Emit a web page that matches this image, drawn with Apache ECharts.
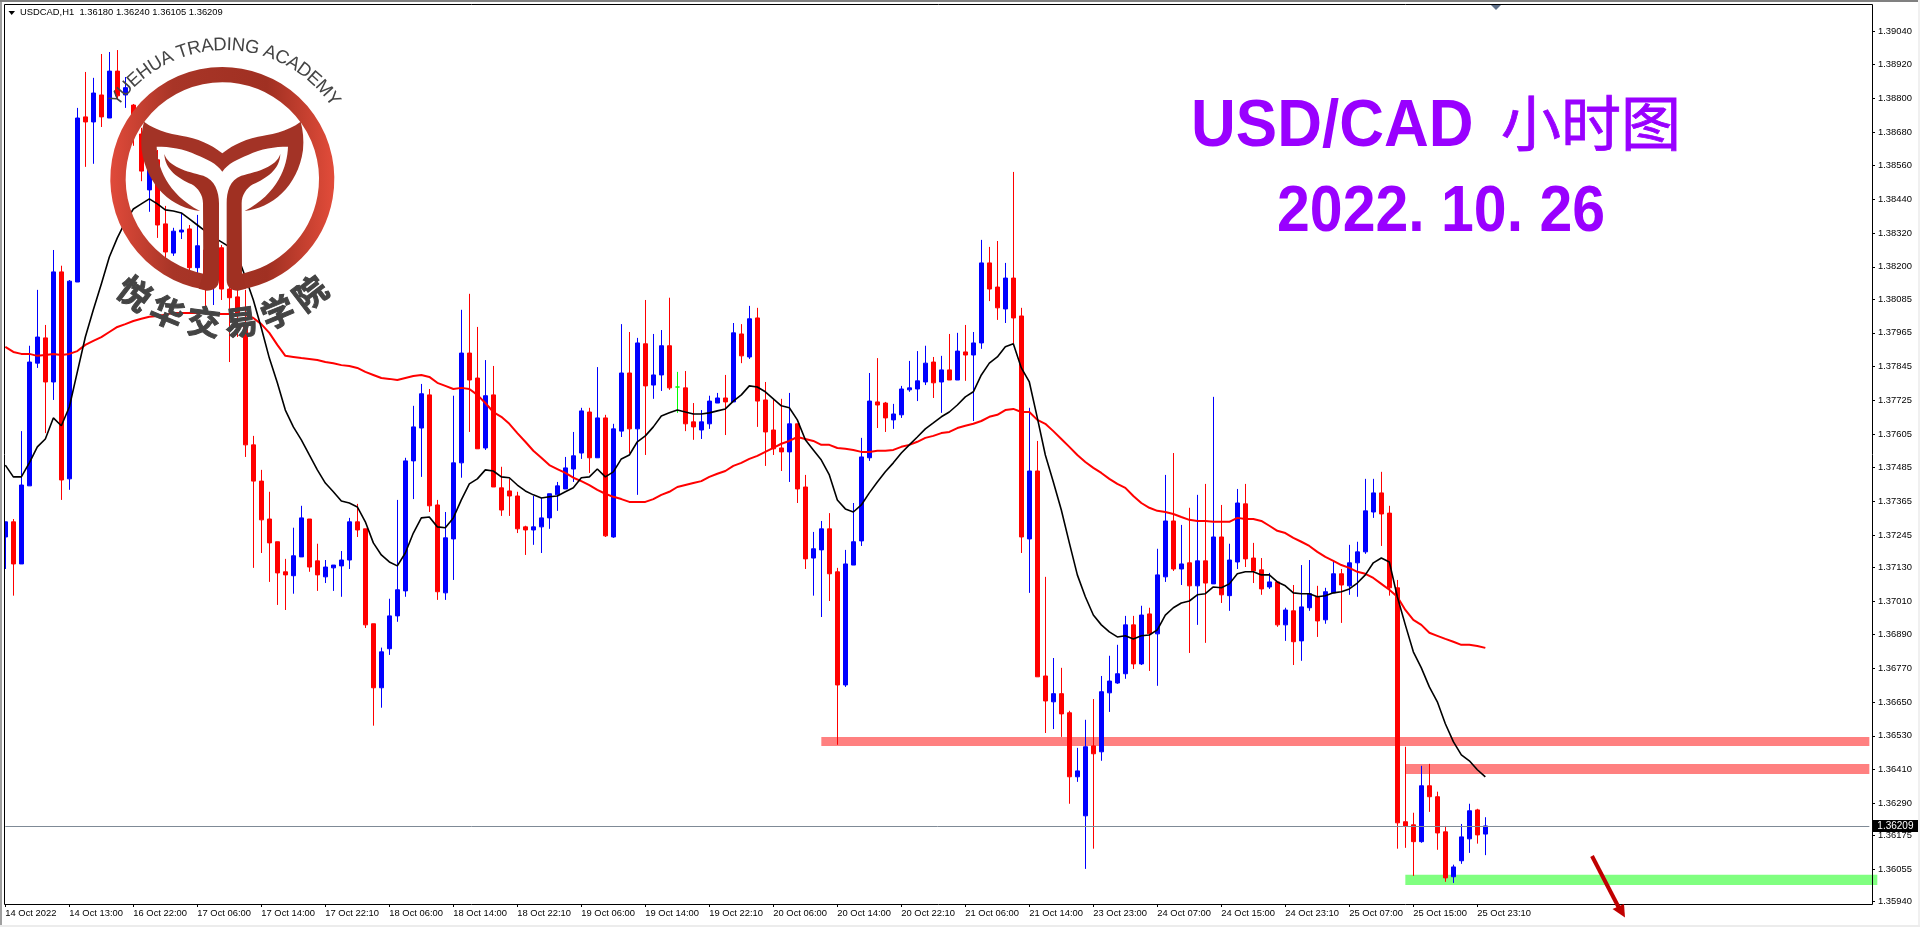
<!DOCTYPE html>
<html lang="en">
<head>
<meta charset="utf-8">
<title>USDCAD H1</title>
<style>
html, body { margin: 0; padding: 0; background: #fff; }
#main { width: 1920px; height: 927px; }
</style>
</head>
<body>
<div id="main"></div>
<script src="https://cdn.jsdelivr.net/npm/echarts@6/dist/echarts.min.js"></script>
<script>
// x axis labels, one every 8 bars
var tickLabels = ['14 Oct 2022','14 Oct 13:00','16 Oct 22:00','17 Oct 06:00','17 Oct 14:00','17 Oct 22:10','18 Oct 06:00','18 Oct 14:00','18 Oct 22:10','19 Oct 06:00','19 Oct 14:00','19 Oct 22:10','20 Oct 06:00','20 Oct 14:00','20 Oct 22:10','21 Oct 06:00','21 Oct 14:00','23 Oct 23:00','24 Oct 07:00','24 Oct 15:00','24 Oct 23:10','25 Oct 07:00','25 Oct 15:00','25 Oct 23:10'];

// price scale as printed by the terminal
var priceTicks = [1.39040,1.38920,1.38800,1.38680,1.38560,1.38440,1.38320,1.38200,1.38085,1.37965,1.37845,1.37725,1.37605,1.37485,1.37365,1.37245,1.37130,1.37010,1.36890,1.36770,1.36650,1.36530,1.36410,1.36290,1.36175,1.36055,1.35940];

var opens = [
1.37238,1.37292,1.37142,1.37420,1.37857,1.37947,1.37790,1.38182,1.37445,1.38146,
1.38734,1.38716,1.38812,1.38730,1.38897,1.38812,1.38776,1.38673,1.38474,1.38581,
1.38353,1.38249,1.38324,1.38335,1.38197,1.38260,1.38135,1.38268,1.38121,1.38093,
1.37993,1.37566,1.37437,1.37302,1.37221,1.37114,1.37100,1.37167,1.37302,1.37153,
1.37096,1.37128,1.37135,1.37156,1.37292,1.37267,1.36929,1.36701,1.36840,1.36957,
1.37046,1.37509,1.37626,1.37744,1.37352,1.37039,1.37231,1.37502,1.37893,1.37804,
1.37555,1.37744,1.37413,1.37402,1.37384,1.37274,1.37263,1.37274,1.37306,1.37388,
1.37409,1.37480,1.37537,1.37683,1.37520,1.37662,1.37238,1.37615,1.37822,1.37623,
1.37926,1.37779,1.37815,1.37919,1.37772,1.37769,1.37648,1.37619,1.37641,1.37715,
1.37733,1.37719,1.37961,1.37879,1.38018,1.37726,1.37619,1.37555,1.37541,1.37641,
1.37416,1.37163,1.37192,1.37267,1.37114,1.36711,1.37138,1.37224,1.37520,1.37719,
1.37715,1.37655,1.37673,1.37762,1.37765,1.37790,1.37861,1.37790,1.37833,1.37797,
1.37897,1.37886,1.37929,1.38214,1.38128,1.38050,1.38160,1.38025,1.37231,1.37473,
1.36743,1.36651,1.36680,1.36612,1.36384,1.36245,1.36494,1.36473,1.36683,1.36718,
1.36751,1.36925,1.36786,1.36964,1.36893,1.37096,1.37295,1.37124,1.37146,1.37064,
1.37153,1.37071,1.37238,1.37029,1.37149,1.37356,1.37163,1.37121,1.37060,1.37078,
1.36925,1.36975,1.36868,1.36986,1.37025,1.36943,1.37039,1.37107,1.37064,1.37146,
1.37185,1.37327,1.37395,1.37323,1.37057,1.36224,1.36213,1.36153,1.36352,1.36313,
1.36188,1.36028,1.36085,1.36163,1.36266,1.36180];

var closes = [
1.37292,1.37142,1.37423,1.37861,1.37950,1.37790,1.38182,1.37441,1.38149,1.38730,
1.38716,1.38819,1.38734,1.38897,1.38809,1.38838,1.38676,1.38541,1.38616,1.38349,
1.38253,1.38327,1.38331,1.38197,1.38275,1.38135,1.38225,1.38121,1.38090,1.38029,
1.37566,1.37437,1.37299,1.37217,1.37110,1.37103,1.37171,1.37306,1.37131,1.37103,
1.37131,1.37138,1.37156,1.37292,1.37263,1.36925,1.36701,1.36829,1.36957,1.37050,
1.37509,1.37630,1.37748,1.37349,1.37043,1.37235,1.37502,1.37893,1.37797,1.37552,
1.37741,1.37416,1.37334,1.37384,1.37267,1.37263,1.37274,1.37306,1.37392,1.37420,
1.37484,1.37527,1.37687,1.37520,1.37662,1.37242,1.37623,1.37822,1.37623,1.37929,
1.37776,1.37815,1.37919,1.37769,1.37772,1.37641,1.37630,1.37648,1.37722,1.37733,
1.37719,1.37965,1.37883,1.38015,1.37722,1.37612,1.37552,1.37541,1.37641,1.37409,
1.37160,1.37196,1.37267,1.37107,1.36711,1.37142,1.37221,1.37523,1.37722,1.37708,
1.37662,1.37676,1.37765,1.37769,1.37794,1.37857,1.37787,1.37833,1.37797,1.37900,
1.37886,1.37929,1.38214,1.38121,1.38054,1.38160,1.38018,1.37238,1.37473,1.36740,
1.36654,1.36680,1.36608,1.36384,1.36405,1.36491,1.36466,1.36687,1.36725,1.36751,
1.36925,1.36786,1.36960,1.36893,1.37103,1.37295,1.37124,1.37142,1.37064,1.37153,
1.37074,1.37238,1.37032,1.37156,1.37359,1.37160,1.37117,1.37053,1.37078,1.36925,
1.36978,1.36865,1.36989,1.37036,1.36939,1.37043,1.37107,1.37067,1.37146,1.37185,
1.37331,1.37395,1.37320,1.37057,1.36220,1.36209,1.36153,1.36352,1.36313,1.36184,
1.36024,1.36063,1.36170,1.36263,1.36177,1.36209];

var lows = [
1.37124,1.37029,1.37142,1.37420,1.37840,1.37608,1.37726,1.37370,1.37406,1.38146,
1.38556,1.38567,1.38698,1.38730,1.38794,1.38766,1.38631,1.38505,1.38396,1.38303,
1.38232,1.38239,1.38299,1.38185,1.38178,1.38057,1.38064,1.38082,1.37861,1.37950,
1.37523,1.37128,1.37181,1.37078,1.36996,1.36978,1.37036,1.37167,1.37114,1.37046,
1.37074,1.37046,1.37025,1.37124,1.37238,1.36914,1.36566,1.36630,1.36818,1.36936,
1.37025,1.37373,1.37452,1.37327,1.37014,1.37014,1.37085,1.37449,1.37612,1.37552,
1.37548,1.37416,1.37313,1.37313,1.37252,1.37174,1.37210,1.37181,1.37267,1.37331,
1.37409,1.37434,1.37516,1.37466,1.37520,1.37238,1.37235,1.37594,1.37537,1.37388,
1.37530,1.37730,1.37758,1.37762,1.37680,1.37615,1.37584,1.37587,1.37623,1.37715,
1.37601,1.37719,1.37857,1.37872,1.37630,1.37491,1.37530,1.37473,1.37434,1.37359,
1.37124,1.37029,1.36953,1.37010,1.36498,1.36704,1.37138,1.37206,1.37509,1.37626,
1.37612,1.37623,1.37662,1.37755,1.37722,1.37779,1.37733,1.37680,1.37797,1.37797,
1.37794,1.37651,1.37908,1.38078,1.38011,1.38000,1.37926,1.37181,1.37039,1.36740,
1.36540,1.36554,1.36526,1.36288,1.36366,1.36056,1.36128,1.36441,1.36615,1.36715,
1.36733,1.36768,1.36782,1.36761,1.36708,1.37078,1.37117,1.37067,1.36825,1.36925,
1.36861,1.37071,1.37003,1.36975,1.37124,1.37131,1.37074,1.37032,1.37053,1.36918,
1.36868,1.36782,1.36797,1.36975,1.36882,1.36929,1.37039,1.36932,1.37032,1.37025,
1.37178,1.37306,1.37206,1.37029,1.36128,1.36131,1.36031,1.36149,1.36259,1.36124,
1.36010,1.36006,1.36074,1.36113,1.36146,1.36105];

var highs = [
1.37292,1.37302,1.37615,1.37919,1.38118,1.37993,1.38260,1.38204,1.38153,1.38766,
1.38894,1.38873,1.38958,1.38965,1.38972,1.38876,1.38780,1.38695,1.38652,1.38616,
1.38417,1.38339,1.38392,1.38349,1.38385,1.38296,1.38260,1.38278,1.38153,1.38118,
1.38118,1.37598,1.37477,1.37399,1.37221,1.37160,1.37271,1.37349,1.37302,1.37214,
1.37156,1.37138,1.37188,1.37306,1.37356,1.37267,1.36929,1.36844,1.37018,1.37370,
1.37520,1.37705,1.37783,1.37765,1.37370,1.37327,1.37741,1.38047,1.38104,1.37986,
1.37868,1.37847,1.37488,1.37445,1.37399,1.37278,1.37384,1.37377,1.37392,1.37434,
1.37523,1.37612,1.37698,1.37698,1.37843,1.37673,1.37641,1.37996,1.37968,1.37947,
1.38082,1.37961,1.37975,1.38090,1.37826,1.37829,1.37715,1.37690,1.37741,1.37751,
1.37815,1.38000,1.37996,1.38061,1.38054,1.37790,1.37726,1.37730,1.37751,1.37641,
1.37459,1.37256,1.37295,1.37323,1.37128,1.37192,1.37359,1.37591,1.37822,1.37875,
1.37719,1.37712,1.37776,1.37865,1.37900,1.37919,1.37879,1.37883,1.37961,1.37965,
1.37993,1.37968,1.38296,1.38271,1.38292,1.38214,1.38538,1.38054,1.37698,1.37580,
1.37096,1.36807,1.36772,1.36619,1.36487,1.36587,1.36661,1.36743,1.36815,1.36854,
1.36957,1.36957,1.36993,1.36986,1.37196,1.37459,1.37537,1.37281,1.37342,1.37388,
1.37427,1.37737,1.37352,1.37214,1.37409,1.37427,1.37217,1.37163,1.37110,1.37078,
1.36986,1.37067,1.37138,1.37156,1.37064,1.37057,1.37153,1.37124,1.37210,1.37221,
1.37445,1.37445,1.37470,1.37349,1.37085,1.36491,1.36256,1.36423,1.36430,1.36331,
1.36209,1.36071,1.36216,1.36288,1.36270,1.36240];

// short moving average (black)
var maFast = [
1.37494,1.37452,1.37452,1.37502,1.37559,1.37587,1.37662,1.37634,1.37701,1.37826,
1.37950,1.38047,1.38139,1.38235,1.38303,1.38360,1.38406,1.38424,1.38442,1.38424,
1.38403,1.38399,1.38392,1.38371,1.38349,1.38327,1.38306,1.38289,1.38271,1.38242,
1.38164,1.38082,1.37982,1.37875,1.37787,1.37690,1.37630,1.37584,1.37530,1.37477,
1.37430,1.37399,1.37366,1.37359,1.37345,1.37292,1.37217,1.37174,1.37149,1.37135,
1.37181,1.37252,1.37306,1.37309,1.37274,1.37271,1.37306,1.37370,1.37427,1.37445,
1.37477,1.37473,1.37452,1.37449,1.37423,1.37402,1.37388,1.37377,1.37381,1.37384,
1.37399,1.37413,1.37449,1.37452,1.37480,1.37452,1.37470,1.37516,1.37530,1.37577,
1.37598,1.37630,1.37669,1.37680,1.37690,1.37683,1.37676,1.37676,1.37680,1.37687,
1.37694,1.37722,1.37744,1.37776,1.37772,1.37755,1.37730,1.37705,1.37698,1.37655,
1.37584,1.37548,1.37512,1.37459,1.37370,1.37338,1.37327,1.37352,1.37395,1.37434,
1.37470,1.37502,1.37537,1.37566,1.37594,1.37623,1.37644,1.37666,1.37683,1.37708,
1.37737,1.37755,1.37815,1.37857,1.37879,1.37915,1.37926,1.37840,1.37790,1.37662,
1.37530,1.37434,1.37334,1.37217,1.37103,1.37025,1.36960,1.36925,1.36900,1.36882,
1.36886,1.36875,1.36886,1.36889,1.36907,1.36960,1.36986,1.37003,1.37010,1.37032,
1.37036,1.37060,1.37057,1.37071,1.37107,1.37114,1.37114,1.37103,1.37103,1.37078,
1.37064,1.37039,1.37036,1.37036,1.37025,1.37029,1.37039,1.37043,1.37053,1.37074,
1.37103,1.37146,1.37163,1.37149,1.37025,1.36925,1.36829,1.36772,1.36704,1.36651,
1.36573,1.36509,1.36462,1.36441,1.36409,1.36384];

// long moving average (red)
var maSlow = [
1.37915,1.37897,1.37890,1.37890,1.37883,1.37886,1.37890,1.37886,1.37890,1.37900,
1.37922,1.37936,1.37950,1.37968,1.37986,1.37996,1.38007,1.38015,1.38022,1.38025,
1.38029,1.38036,1.38036,1.38036,1.38036,1.38036,1.38032,1.38032,1.38032,1.38032,
1.38029,1.38018,1.37996,1.37965,1.37922,1.37883,1.37879,1.37875,1.37872,1.37868,
1.37861,1.37857,1.37850,1.37847,1.37840,1.37826,1.37815,1.37804,1.37801,1.37797,
1.37804,1.37811,1.37815,1.37808,1.37787,1.37776,1.37765,1.37769,1.37765,1.37744,
1.37715,1.37683,1.37666,1.37641,1.37608,1.37577,1.37545,1.37520,1.37494,1.37480,
1.37466,1.37449,1.37437,1.37423,1.37406,1.37392,1.37381,1.37373,1.37363,1.37363,
1.37363,1.37373,1.37388,1.37399,1.37416,1.37423,1.37430,1.37437,1.37452,1.37463,
1.37473,1.37491,1.37502,1.37516,1.37527,1.37541,1.37555,1.37570,1.37580,1.37594,
1.37587,1.37580,1.37566,1.37566,1.37555,1.37552,1.37548,1.37541,1.37541,1.37545,
1.37545,1.37548,1.37559,1.37566,1.37577,1.37591,1.37598,1.37608,1.37612,1.37626,
1.37634,1.37641,1.37651,1.37666,1.37673,1.37690,1.37694,1.37683,1.37683,1.37655,
1.37641,1.37615,1.37587,1.37559,1.37530,1.37505,1.37484,1.37466,1.37445,1.37427,
1.37413,1.37384,1.37359,1.37342,1.37331,1.37327,1.37320,1.37309,1.37299,1.37295,
1.37295,1.37292,1.37292,1.37292,1.37306,1.37302,1.37302,1.37295,1.37278,1.37260,
1.37252,1.37235,1.37221,1.37206,1.37185,1.37167,1.37153,1.37138,1.37128,1.37114,
1.37107,1.37092,1.37071,1.37050,1.37025,1.36978,1.36943,1.36925,1.36897,1.36886,
1.36875,1.36865,1.36854,1.36854,1.36850,1.36843];

// horizontal zones drawn by hand on the chart: [low, high, first bar]
var resistanceUpper = [1.36494, 1.36526, 102];
var resistanceLower = [1.36394, 1.36430, 175];
var supportZone = [1.35999, 1.36035, 175];

var lastPrice = 1.36209;
var headerText = 'USDCAD,H1  1.36180 1.36240 1.36105 1.36209';

var BAR_SLOTS = 235;
var FONT = '"Liberation Sans", Arial, sans-serif';

var categories = [];
for (var c = 0; c < BAR_SLOTS; c++) {
    categories.push(c % 8 === 0 && tickLabels[c / 8] ? tickLabels[c / 8] : '');
}

var candles = opens.map(function (o, i) {
    return [o, closes[i], lows[i], highs[i]];
});

function zoneArea(zone, color, rightBar) {
    return [
        { xAxis: zone[2], yAxis: zone[1], itemStyle: { color: color } },
        { xAxis: rightBar, yAxis: zone[0] }
    ];
}

// logo shapes, in 3x pixels, scaled down by the group they sit in
echarts.graphic.registerShape('logoHorns', echarts.graphic.extendPath(
    'M432,365 C470,395 530,405 560,410 C610,420 650,445 667,460 C684,445 724,420 774,410 C804,405 864,395 902,365 ' +
    'C909,390 912,420 909,450 C894,560 814,625 734,633 C834,580 862,500 864,440 C824,440 784,445 744,465 C714,478 684,490 667,515 ' +
    'C650,490 620,478 590,465 C550,445 510,440 470,440 C472,500 500,580 600,633 C520,625 440,560 425,450 C422,420 425,390 432,365 Z', {}));
echarts.graphic.registerShape('logoStems', echarts.graphic.extendPath(
    'M493,462 C505,500 560,515 610,527 C645,540 657,575 657,610 L657,840 C657,862 640,872 620,872 L596,866 L610,820 L609,610 C609,585 595,565 575,553 C535,535 495,510 493,462 Z ' +
    'M841,462 C829,500 774,515 724,527 C689,540 680,575 680,610 L680,840 C680,862 694,872 714,872 L738,866 L726,820 L725,610 C725,585 739,565 759,553 C799,535 839,510 841,462 Z', {}));

var LOGO_X = 222.5, LOGO_Y = 179;

function logoTopText() {
    var text = 'YUEHUA TRADING ACADEMY';
    var size = 18.5, r = 134;
    var ctx = document.createElement('canvas').getContext('2d');
    ctx.font = size + 'px ' + FONT;
    var total = ctx.measureText(text).width;
    var run = 0, out = [];
    for (var i = 0; i < text.length; i++) {
        var w = ctx.measureText(text[i]).width;
        var a = (run + w / 2 - total / 2) / r;
        out.push({
            type: 'text', z: 60, x: LOGO_X + 2.5 + r * Math.sin(a), y: LOGO_Y - r * Math.cos(a), rotation: -a,
            style: { text: text[i], fill: '#444', fontSize: size, fontFamily: FONT, textAlign: 'center', textVerticalAlign: 'middle' }
        });
        run += w;
    }
    return out;
}

function logoBottomText() {
    var text = '悦华交易学院';
    var out = [], r = 144;
    for (var i = 0; i < text.length; i++) {
        var a = (37.5 - 15 * i) * Math.PI / 180;
        out.push({
            type: 'text', z: 60, x: LOGO_X - r * Math.sin(a), y: LOGO_Y + r * Math.cos(a), rotation: -a,
            style: { text: text[i], fill: '#444', stroke: '#444', lineWidth: 1, fontSize: 33, fontWeight: 'bold', fontFamily: '"Noto Sans CJK SC"', textAlign: 'center', textVerticalAlign: 'middle' }
        });
    }
    return out;
}

var ringFill = { type: 'linear', x: 0, y: 0, x2: 1, y2: 0, colorStops: [
    { offset: 0, color: '#e04a3a' }, { offset: 0.28, color: '#a83527' },
    { offset: 0.7, color: '#a03022' }, { offset: 1, color: '#e24c3a' }
] };

var frame = [
    // window edges
    { type: 'rect', z: 40, shape: { x: 0, y: 0, width: 2, height: 927 }, style: { fill: '#a0a0a0' } },
    { type: 'rect', z: 40, shape: { x: 2, y: 0, width: 2, height: 904 }, style: { fill: '#fff' } },
    { type: 'rect', z: 40, shape: { x: 0, y: 0, width: 1920, height: 2 }, style: { fill: '#808080' } },
    { type: 'rect', z: 40, shape: { x: 1918, y: 0, width: 2, height: 927 }, style: { fill: '#f0f0f0' } },
    { type: 'rect', z: 40, shape: { x: 0, y: 925, width: 1920, height: 2 }, style: { fill: '#ececec' } },
    { type: 'rect', z: 41, shape: { x: 4.5, y: 4.5, width: 1868, height: 900 }, style: { fill: null, stroke: '#000', lineWidth: 1 } },
    // terminal header
    { type: 'polygon', z: 41, shape: { points: [[8.5, 11], [15, 11], [11.7, 15]] }, style: { fill: '#000' } },
    { type: 'text', z: 41, x: 20, y: 12.5, style: { text: headerText, fill: '#000', fontSize: 9.4, fontFamily: FONT, textVerticalAlign: 'middle' } },
    // chart shift marker
    { type: 'polygon', z: 41, shape: { points: [[1491, 5], [1501, 5], [1496, 10]] }, style: { fill: '#5f7089' } },
    // title
    { type: 'text', z: 55, x: 1191, y: 94, scaleY: 1.09, style: { text: 'USD/CAD', fill: '#9900ff', fontSize: 62, fontWeight: 'bold', fontFamily: FONT } },
    { type: 'text', z: 55, x: 1501, y: 93, style: { text: '小时图', fill: '#9900ff', stroke: '#9900ff', lineWidth: 0.8, fontSize: 60, fontFamily: '"Noto Sans CJK SC"' } },
    { type: 'text', z: 55, x: 1277, y: 181, scaleY: 1.09, style: { text: '2022. 10. 26', fill: '#9900ff', fontSize: 59, fontWeight: 'bold', fontFamily: FONT } },
    // hand drawn arrow
    { type: 'line', z: 55, shape: { x1: 1592, y1: 856, x2: 1619, y2: 908 }, style: { stroke: '#c00000', lineWidth: 4 } },
    { type: 'polygon', z: 55, shape: { points: [[1612.5, 909], [1624, 904], [1625, 917.5]] }, style: { fill: '#c00000' } },
    // logo
    {
        type: 'group', scaleX: 1 / 3, scaleY: 1 / 3,
        children: [
            { type: 'arc', z: 58, shape: { cx: 667, cy: 537, r: 313, startAngle: 100 * Math.PI / 180, endAngle: 440 * Math.PI / 180, clockwise: true }, style: { stroke: ringFill, lineWidth: 46, fill: null } },
            { type: 'logoHorns', z: 59, style: { fill: '#a33326' } },
            { type: 'logoStems', z: 59, style: { fill: '#a03022' } }
        ]
    }
].concat(logoTopText(), logoBottomText());

var chart = echarts.init(document.getElementById('main'));

chart.setOption({
    animation: false,
    backgroundColor: '#fff',
    grid: { left: 1.33, top: 4, width: 8 * BAR_SLOTS, height: 900, containLabel: false, outerBoundsMode: 'none' },
    graphic: frame,
    xAxis: {
        type: 'category',
        data: categories,
        boundaryGap: true,
        axisLine: { show: false },
        axisTick: {
            show: true, length: 3, alignWithLabel: true,
            interval: function (i, v) { return v !== ''; },
            lineStyle: { color: '#000' }
        },
        axisLabel: {
            show: true, margin: 5, align: 'left', color: '#000', fontSize: 9.4, fontFamily: FONT,
            interval: function (i, v) { return v !== ''; }
        },
        splitLine: { show: false }
    },
    yAxis: {
        type: 'value',
        position: 'right',
        offset: -9.33,
        min: 1.35931,
        max: 1.39136,
        axisLine: { show: false },
        axisTick: { show: true, length: 3, customValues: priceTicks, lineStyle: { color: '#000' } },
        axisLabel: {
            show: true, margin: 6, color: '#000', fontSize: 9.4, fontFamily: FONT,
            customValues: priceTicks,
            formatter: function (v) { return v.toFixed(5); }
        },
        splitLine: { show: false }
    },
    series: [
        {
            type: 'candlestick',
            data: candles,
            barWidth: 4,
            z: 2,
            itemStyle: {
                color: '#0000ff', color0: '#ff0000',
                borderColor: '#0000ff', borderColor0: '#ff0000', borderColorDoji: '#00ff00',
                borderWidth: 1
            },
            markArea: {
                silent: true,
                z: 1,
                data: [
                    zoneArea(resistanceUpper, '#ff8080', 233),
                    zoneArea(resistanceLower, '#ff8080', 233),
                    zoneArea(supportZone, '#80ff80', 234)
                ]
            },
            markLine: {
                silent: true,
                symbol: 'none',
                lineStyle: { color: '#7f8a96', width: 1, type: 'solid' },
                label: {
                    show: true, position: 'end', distance: 3,
                    formatter: function () { return lastPrice.toFixed(5); },
                    color: '#fff', backgroundColor: '#000', padding: [1, 5],
                    fontSize: 10, fontFamily: FONT
                },
                data: [[{ xAxis: 0, yAxis: lastPrice }, { xAxis: 233, yAxis: lastPrice }]]
            }
        },
        {
            type: 'line', data: maSlow, showSymbol: false, silent: true, z: 3,
            lineStyle: { color: '#ff0000', width: 2 }
        },
        {
            type: 'line', data: maFast, showSymbol: false, silent: true, z: 4,
            lineStyle: { color: '#000', width: 1.6 }
        }
    ]
});
</script>
</body>
</html>
